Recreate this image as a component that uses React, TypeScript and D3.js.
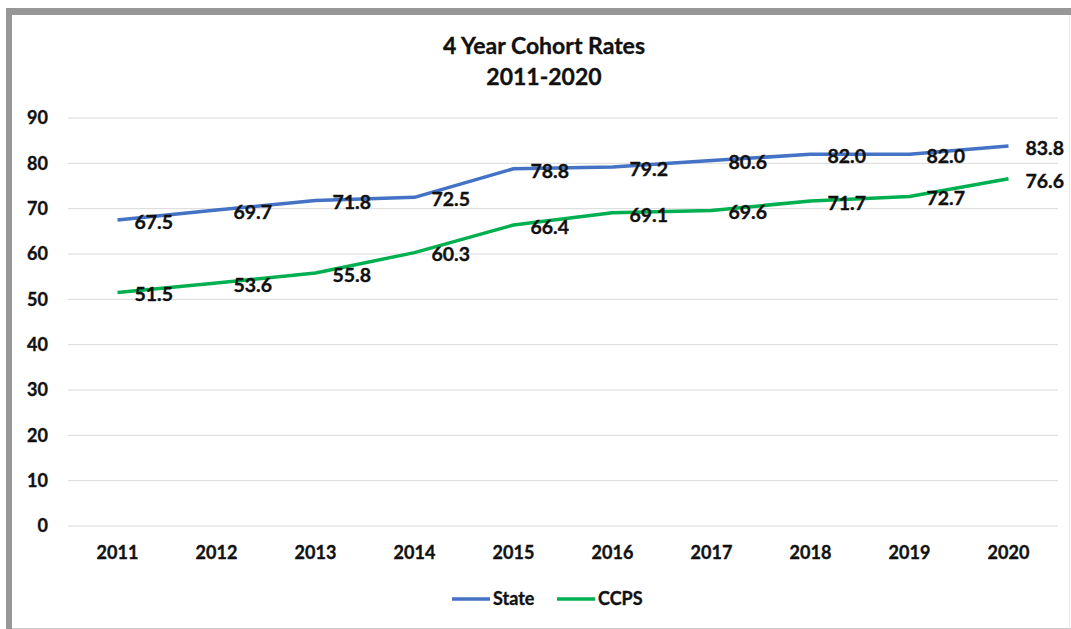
import React from "react"
import * as d3 from "d3"

const years = ["2011", "2012", "2013", "2014", "2015", "2016", "2017", "2018", "2019", "2020"]
const stateRates = [67.5, 69.7, 71.8, 72.5, 78.8, 79.2, 80.6, 82.0, 82.0, 83.8]
const ccpsRates = [51.5, 53.6, 55.8, 60.3, 66.4, 69.1, 69.6, 71.7, 72.7, 76.6]
const yTicks = [0, 10, 20, 30, 40, 50, 60, 70, 80, 90]
const seriesNames = ["State", "CCPS"]
const colors = ["#4472C4", "#00B050"]

const W = 1071
const H = 629
const font = "Lato, 'Open Sans', sans-serif"
const ink = "#111"

export default function App() {
	const x = d3.scaleBand().domain(years).range([68, 1058])
	const y = d3.scaleLinear().domain([0, 90]).range([526, 118])
	const cx = (d) => x(d) + x.bandwidth() / 2

	const line = d3
		.line()
		.x((d, i) => cx(years[i]))
		.y((d) => y(d))

	const series = [stateRates, ccpsRates]

	const txt = { fontFamily: font, fontWeight: "bold", fill: ink, stroke: ink, strokeWidth: 0.35 }

	return (
		<div style={{ position: "absolute", left: 0, top: 0 }}>
			<svg width={W} height={H} style={{ display: "block", background: "#fff" }}>
				{/* frame */}
				<rect x={6} y={8} width={W - 6} height={7} fill="#979797" />
				<rect x={6} y={8} width={6} height={H - 8} fill="#979797" />
				<line x1={12} x2={W} y1={H - 0.5} y2={H - 0.5} stroke="#c8c8c8" />
				<line x1={W - 1.5} x2={W - 1.5} y1={15} y2={H} stroke="#e6e6e6" />

				{/* title */}
				<text x={544} y={46} dy="0.35em" textAnchor="middle" fontSize={23} {...txt}>
					4 Year Cohort Rates
				</text>
				<text x={544} y={77} dy="0.35em" textAnchor="middle" fontSize={23} {...txt}>
					2011-2020
				</text>

				{/* grid + y axis */}
				{yTicks.map((t) => (
					<g key={t}>
						<line x1={68} x2={1058} y1={y(t)} y2={y(t)} stroke="#d9d9d9" strokeWidth={1} />
						<text x={48} y={y(t)} dy="0.35em" textAnchor="end" fontSize={18} {...txt}>
							{t}
						</text>
					</g>
				))}

				{/* x axis labels */}
				{years.map((yr) => (
					<text key={yr} x={cx(yr)} y={553} dy="0.35em" textAnchor="middle" fontSize={18} {...txt}>
						{yr}
					</text>
				))}

				{/* lines */}
				{series.map((s, si) => (
					<path key={si} d={line(s)} fill="none" stroke={colors[si]} strokeWidth={3.5} strokeLinejoin="round" />
				))}

				{/* data labels */}
				{series.map((s, si) =>
					s.map((v, i) => (
						<text key={si + "-" + i} x={cx(years[i]) + 17} y={y(v) + 2} dy="0.35em" fontSize={19.5} {...txt}>
							{v.toFixed(1)}
						</text>
					))
				)}

				{/* legend */}
				{seriesNames.map((n, i) => (
					<g key={n} transform={`translate(${i === 0 ? 452 : 557},599)`}>
						<line x1={0} x2={38} y1={0} y2={0} stroke={colors[i]} strokeWidth={3.5} />
						<text x={41} y={0} dy="0.35em" fontSize={18} {...txt}>
							{n}
						</text>
					</g>
				))}
			</svg>
		</div>
	)
}
